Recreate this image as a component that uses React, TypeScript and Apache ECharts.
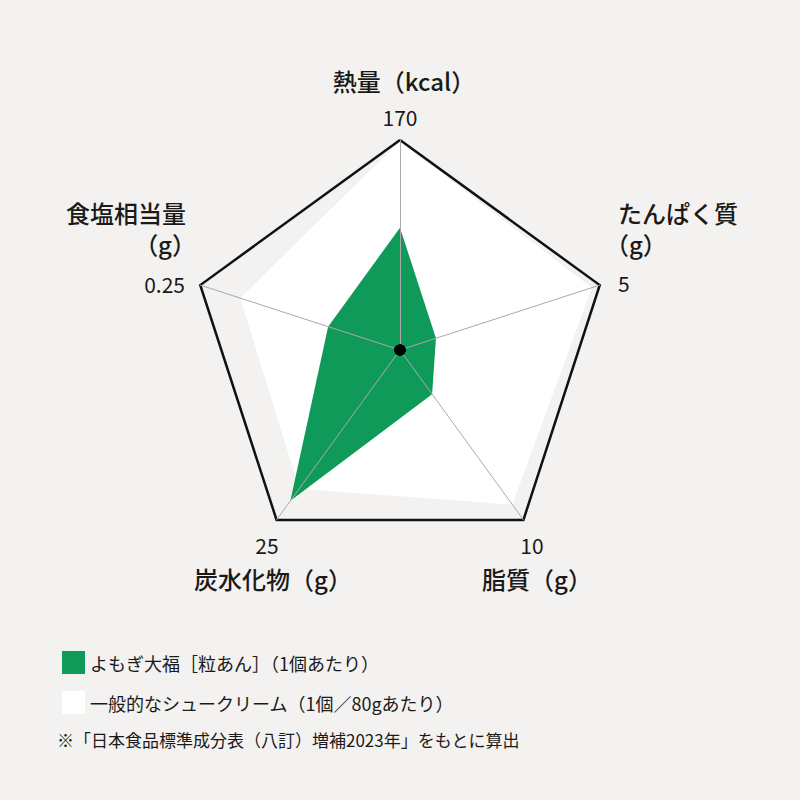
import React, { useEffect, useRef } from 'react'
import * as echarts from 'echarts'

const FONT = '"Noto Sans CJK JP", "Noto Sans", sans-serif'
const TEXT = '#1a1a1a'
const GREEN = '#0f9a5a'

// 項目（上から時計回り）
const indicatorNames = ['熱量（kcal）', 'たんぱく質（g）', '脂質（g）', '炭水化物（g）', '食塩相当量（g）']
const indicatorMax = [170, 5, 10, 25, 0.25]
const maxLabels = ['170', '5', '10', '25', '0.25']
// 表示用の項目名（改行あり）
const nameLines = [['熱量（kcal）'], ['たんぱく質', '（g）'], ['脂質（g）'], ['炭水化物（g）'], ['食塩相当量', '（g）']]

// 値
const daifukuValues = [99, 0.9, 2.6, 22.2, 0.09]
const creamValues = [169, 4.8, 9.1, 20.4, 0.2]

const seriesNames = ['よもぎ大福［粒あん］（1個あたり）', '一般的なシュークリーム（1個／80gあたり）']
const footnote = '※「日本食品標準成分表（八訂）増補2023年」をもとに算出'

export default function App() {
  const chartRef = useRef<HTMLDivElement>(null)

  useEffect(() => {
    if (!chartRef.current) return
    const chart = echarts.init(chartRef.current, null, { renderer: 'svg' })

    // echarts のレーダーは反時計回りなので、先頭以外を逆順に
    const order = [0, 4, 3, 2, 1]
    const pick = (arr: any[]) => order.map(i => arr[i])

    // ラベル位置
    const namePos = [
      [{ x: 404, y: 80, align: 'center' }],
      [{ x: 618, y: 212, align: 'left' }, { x: 605, y: 243, align: 'left' }],
      [{ x: 537, y: 578, align: 'center' }],
      [{ x: 273, y: 578, align: 'center' }],
      [{ x: 186, y: 212, align: 'right' }, { x: 196, y: 243, align: 'right' }],
    ]
    const maxPos = [
      { x: 400, y: 117, align: 'center' },
      { x: 618, y: 283, align: 'left' },
      { x: 532, y: 545, align: 'center' },
      { x: 267, y: 545, align: 'center' },
      { x: 185, y: 284, align: 'right' },
    ]

    const graphics: any[] = []
    nameLines.forEach((lines, i) => {
      lines.forEach((line, j) => {
        const p = namePos[i][j]
        graphics.push({
          type: 'text',
          x: p.x,
          y: p.y,
          style: {
            text: line,
            fill: TEXT,
            fontSize: 24,
            fontWeight: 500,
            fontFamily: FONT,
            align: p.align,
            verticalAlign: 'middle',
          },
        })
      })
    })
    maxLabels.forEach((label, i) => {
      const p = maxPos[i]
      graphics.push({
        type: 'text',
        x: p.x,
        y: p.y,
        style: {
          text: label,
          fill: TEXT,
          fontSize: 21,
          fontFamily: FONT,
          align: p.align,
          verticalAlign: 'middle',
        },
      })
    })
    graphics.push({
      type: 'text',
      x: 57,
      y: 739,
      style: {
        text: footnote,
        fill: TEXT,
        fontSize: 17,
        fontFamily: FONT,
        align: 'left',
        verticalAlign: 'middle',
      },
    })

    const option = {
      animation: false,
      backgroundColor: '#f3f2f0',
      textStyle: { fontFamily: FONT },
      radar: {
        center: [400, 350],
        radius: 210,
        startAngle: 90,
        splitNumber: 1,
        z: 3,
        indicator: pick(indicatorNames).map((name: string, i: number) => ({
          name,
          min: 0,
          max: pick(indicatorMax)[i],
        })),
        axisName: { show: false },
        axisLine: { lineStyle: { color: '#a9a9a9', width: 1 } },
        splitLine: { lineStyle: { color: ['rgba(0,0,0,0)', '#111'], width: 2.5 } },
        splitArea: { show: false },
        axisTick: { show: false },
        axisLabel: { show: false },
      },
      legend: {
        data: seriesNames,
        orient: 'vertical',
        left: 57,
        top: 646,
        icon: 'rect',
        itemWidth: 23,
        itemHeight: 23,
        itemGap: 17,
        selectedMode: false,
        textStyle: { fontSize: 18, color: TEXT, fontFamily: FONT },
      },
      series: [
        {
          type: 'radar',
          name: seriesNames[1],
          z: 2,
          symbol: 'none',
          lineStyle: { width: 0 },
          itemStyle: { color: '#ffffff' },
          areaStyle: { color: '#ffffff', opacity: 1 },
          data: [{ name: seriesNames[1], value: pick(creamValues) }],
        },
        {
          type: 'radar',
          name: seriesNames[0],
          z: 2,
          symbol: 'none',
          lineStyle: { width: 0 },
          itemStyle: { color: GREEN },
          areaStyle: { color: GREEN, opacity: 1 },
          data: [{ name: seriesNames[0], value: pick(daifukuValues) }],
        },
        {
          // 中心の黒丸
          type: 'radar',
          name: 'center',
          z: 5,
          silent: true,
          symbol: 'circle',
          symbolSize: 11,
          lineStyle: { width: 0, opacity: 0 },
          itemStyle: { color: '#000' },
          data: [{ value: [0, 0, 0, 0, 0] }],
        },
      ],
      graphic: graphics,
    }

    chart.setOption(option)
    return () => chart.dispose()
  }, [])

  return (
    <div
      ref={chartRef}
      style={{ position: 'fixed', left: 0, top: 0, width: 800, height: 800 }}
    />
  )
}
